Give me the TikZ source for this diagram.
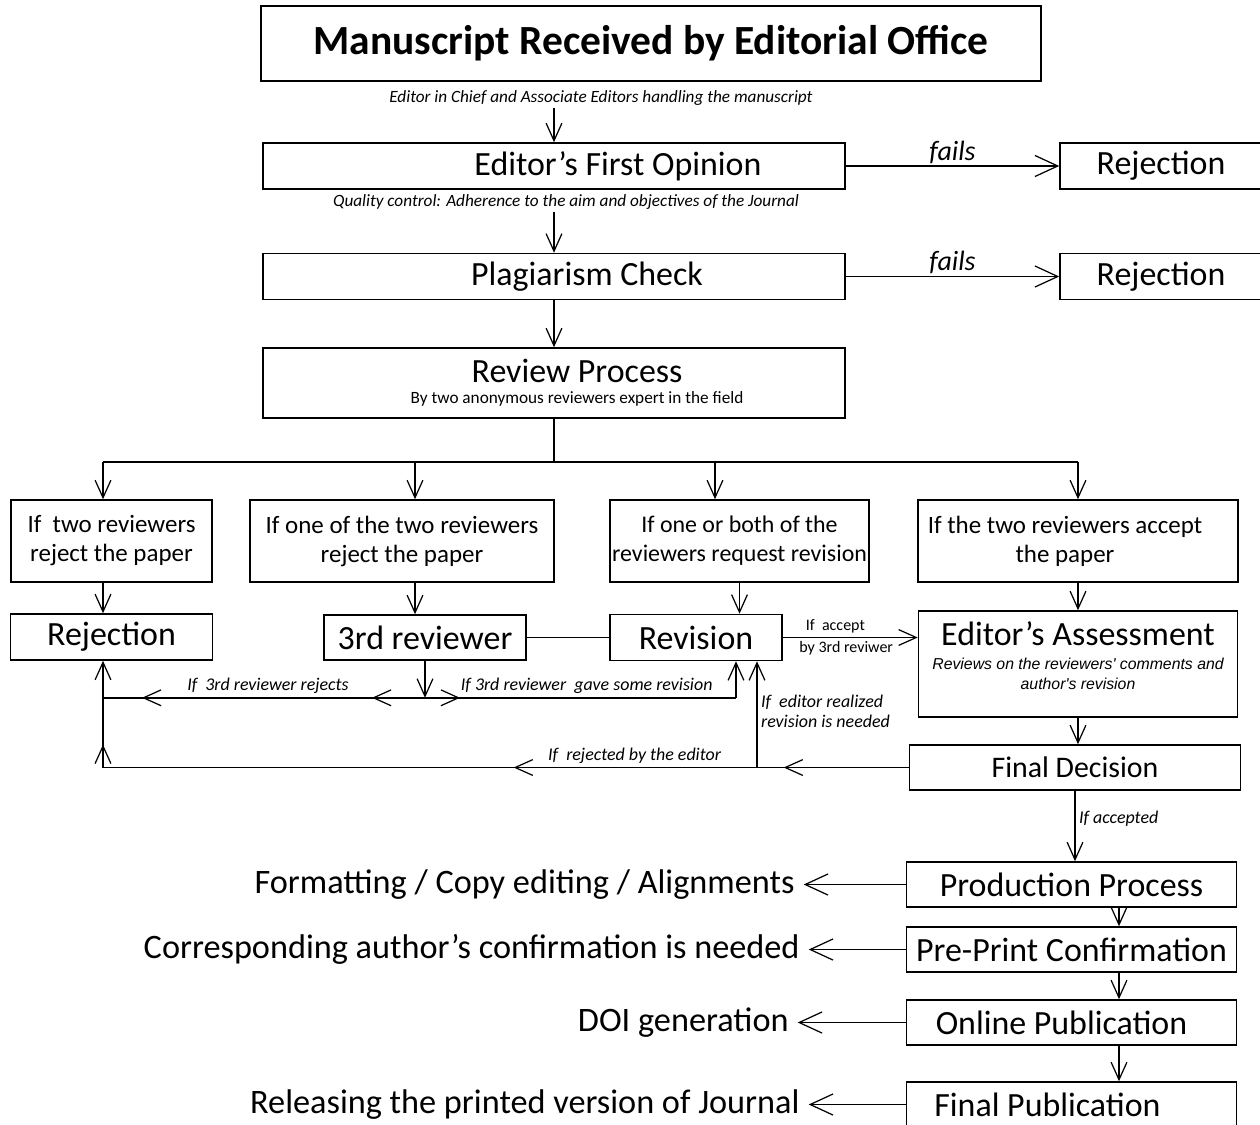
\documentclass[tikz,border=0pt]{standalone}
\usepackage{fontspec}
\setmainfont{Carlito}
\newfontfamily\arialfont{Liberation Sans}
\usepackage{tikz}
\usetikzlibrary{arrows.meta, positioning}
\newcommand{\revfont}{\arialfont\itshape\fontsize{9}{10.8}\selectfont}
\tikzset{
  headbox/.style={rectangle, minimum width=15.6cm, minimum height=1.5cm, inner sep=0pt, text centered, draw=black, line width=0.9pt, font=\fontsize{23.6}{26}\selectfont\bfseries},
  mainbox/.style={rectangle, minimum width=11.64cm, minimum height=0.92cm, inner sep=0pt, text centered, align=center, draw=black, line width=0.9pt, font=\fontsize{19.3}{23}\selectfont},
  rejbox/.style={mainbox, minimum width=4.04cm},
  condbox/.style={rectangle, minimum height=1.64cm, inner sep=0pt, text centered, align=center, draw=black, line width=0.9pt, font=\fontsize{14.2}{16.5}\selectfont},
  pubbox/.style={mainbox, minimum width=6.6cm, minimum height=0.9cm},
  note/.style={inner sep=1pt, font=\fontsize{9.8}{11}\selectfont\itshape},
  lbl/.style={inner sep=2pt, align=left, font=\fontsize{10.2}{11.5}\selectfont\itshape},
  lblup/.style={inner sep=2pt, font=\fontsize{9.1}{11}\selectfont},
  failtext/.style={inner sep=1pt, font=\fontsize{15.9}{18}\selectfont\itshape},
  sidetext/.style={inner sep=5pt, font=\fontsize{19.5}{23}\selectfont},
  wire/.style={line width=0.8pt},
  arrow/.style={line width=0.7pt, -{Straight Barb[length=10pt, width=9pt]}},
  bigarrow/.style={line width=0.7pt, -{Straight Barb[length=13pt, width=12pt]}}
}
\begin{document}
\begin{tikzpicture}[node distance=2cm]
\useasboundingbox (0,0) rectangle (25.2,-22.48);

% Nodes
\node (title) [headbox] at (13.02,-0.87) {Manuscript Received by Editorial Office};
\node (edsub) [note, node distance=1.09cm, below of=title, xshift=-1cm] {Editor in Chief and Associate Editors handling the manuscript};
\node (opinion) [mainbox, node distance=2.45cm, below of=title, xshift=-1.94cm] {\hspace*{2.56cm}Editor's First Opinion};
\node (rejA) [rejbox, node distance=12.14cm, right of=opinion] {Rejection};
\node (qsub) [note, node distance=0.72cm, below of=opinion, xshift=0.24cm] {Quality control: Adherence to the aim and objectives of the Journal};
\node (plag) [mainbox, node distance=2.21cm, below of=opinion] {\hspace*{1.32cm}Plagiarism Check};
\node (rejB) [rejbox, node distance=12.14cm, right of=plag] {Rejection};
\node (review) [mainbox, minimum height=1.4cm, node distance=2.13cm, below of=plag] {\hspace*{0.92cm}Review Process\\[-11pt]\fontsize{9.8}{11}\selectfont\hspace*{0.92cm}By two anonymous reviewers expert in the field};

\node (ifB) [condbox, minimum width=6.08cm, node distance=3.16cm, below of=review, xshift=-3.04cm] {If one of the two reviewers\\reject the paper};
\node (ifA) [condbox, minimum width=4.02cm, node distance=5.81cm, left of=ifB] {If~ two reviewers\\reject the paper};
\node (ifC) [condbox, minimum width=5.18cm, font=\fontsize{13.6}{16.5}\selectfont, node distance=6.75cm, right of=ifB] {If one or both of the\\reviewers request revision};
\node (ifD) [condbox, minimum width=6.4cm, node distance=6.77cm, right of=ifC] {If the two reviewers accept\hspace*{0.52cm}\\the paper\hspace*{0.52cm}};

\node (rej) [rejbox, node distance=1.92cm, below of=ifA] {Rejection};
\node (third) [rejbox, minimum height=0.9cm, node distance=1.93cm, below of=ifB, xshift=0.46cm] {3rd reviewer};
\node (revision) [mainbox, minimum width=3.44cm, node distance=5.42cm, right of=third] {Revision};
\node (assess) [mainbox, minimum width=6.38cm, minimum height=2.12cm, text depth=10pt, node distance=2.46cm, below of=ifD] {Editor's Assessment\\[-9pt]\revfont Reviews on the reviewers' comments and\\[-11.9pt]\revfont author's revision};
\node (final) [mainbox, minimum width=6.62cm, minimum height=0.9cm, font=\fontsize{17}{20}\selectfont, node distance=2.07cm, below of=assess, xshift=-0.06cm] {Final Decision};

\node (prod) [pubbox, node distance=2.34cm, below of=final, xshift=-0.07cm] {Production Process};
\node (preprint) [pubbox, node distance=1.3cm, below of=prod] {Pre-Print Confirmation};
\node (online) [pubbox, node distance=1.46cm, below of=preprint] {Online Publication\hspace*{0.4cm}};
\node (finalpub) [pubbox, node distance=1.64cm, below of=online] {Final Publication\hspace*{0.96cm}};

\node (fmt) [sidetext, left=2.04cm of prod] {Formatting / Copy editing / Alignments};
\node (confirm) [sidetext, left=1.94cm of preprint] {Corresponding author's confirmation is needed};
\node (doi) [sidetext, left=2.16cm of online] {DOI generation};
\node (printed) [sidetext, left=1.94cm of finalpub] {Releasing the printed version of Journal};

% Coordinates
\coordinate (split) at ([yshift=-0.86cm]review.south);
\coordinate (colA) at ([xshift=-0.17cm]rej.south);
\coordinate (colB) at ([xshift=-0.2cm]third.north);
\coordinate (colC) at ([xshift=-0.49cm]ifC.north);
\coordinate (j3) at ([yshift=-0.74cm]third.south);
\coordinate (revA) at ([xshift=0.8cm]revision.south);
\coordinate (revB) at ([xshift=1.22cm]revision.south);
\coordinate (pubx) at ([xshift=0.95cm]prod.south);

% Arrows
\draw [arrow] (opinion.north |- edsub.south) -- (opinion.north);
\draw [bigarrow] (opinion) -- node[failtext, above] {fails} (rejA);
\draw [arrow] (plag.north |- qsub.south) -- (plag.north);
\draw [bigarrow] (plag) -- node[failtext, above] {fails} (rejB);
\draw [arrow] (plag) -- (review);

\draw [wire] (review.south) -- (split);
\draw [wire] (split -| colA) -- (split -| ifD);
\draw [arrow] (split -| colA) -- (colA |- ifA.north);
\draw [arrow] (split -| colB) -- (colB |- ifB.north);
\draw [arrow] (split -| colC) -- (colC);
\draw [arrow] (split -| ifD) -- (ifD);

\draw [arrow] (colA |- ifA.south) -- (colA |- rej.north);
\draw [arrow] (colB |- ifB.south) -- (colB);
\draw [arrow] (ifC.south) -- (ifC.south |- revision.north);
\draw [arrow] (ifD.south) -- (ifD.south |- assess.north);
\draw [wire] (third) -- (revision);
\draw [arrow] (revision.east) -- node[lblup, above, pos=0.39] {If~ accept} node[lblup, below, pos=0.47] {by 3rd reviwer} (assess.west |- revision.east);

% 3rd reviewer loop
\draw [arrow] (third) -- (j3);
\draw [arrow] (j3) -- ++(-1.06,0);
\draw [arrow] (j3) -- node[lbl, above, pos=0.555] {If~ 3rd reviewer rejects} ++(-5.66,0);
\draw [wire] (j3) -- (j3 -| colA);
\draw [arrow] (j3) -- ++(0.7,0);
\draw [wire] (j3) -- node[lbl, above, pos=0.52] {If 3rd reviewer~ gave some revision} (j3 -| revA);
\draw [arrow] (j3 -| revA) -- (revA);

% editor loop
\draw [arrow] (assess.south) -- (assess.south |- final.north);
\draw [arrow] (final.west) -- ++(-2.5,0);
\draw [arrow] (final.west) -- node[lbl, above, pos=0.694] {If~ rejected by the editor} ++(-7.9,0);
\draw [arrow] (final.west) -| (colA);
\draw [arrow] (final.west -| colA) -- ++(0,0.46);
\draw [arrow] (revB |- final.west) -- node[lbl, right, pos=0.53] {If~ editor realized\\revision is needed} (revB);

% publication
\draw [arrow] (final.south) -- node[lbl, right, pos=0.39] {If accepted} (final.south |- prod.north);
\foreach \a/\b in {prod/preprint, preprint/online, online/finalpub}
  \draw [arrow] (pubx |- \a.south) -- (pubx |- \b.north);
\draw [bigarrow] (prod) -- (fmt);
\draw [bigarrow] (preprint) -- (confirm);
\draw [bigarrow] (online) -- (doi);
\draw [bigarrow] (finalpub) -- (printed);
\end{tikzpicture}
\end{document}
